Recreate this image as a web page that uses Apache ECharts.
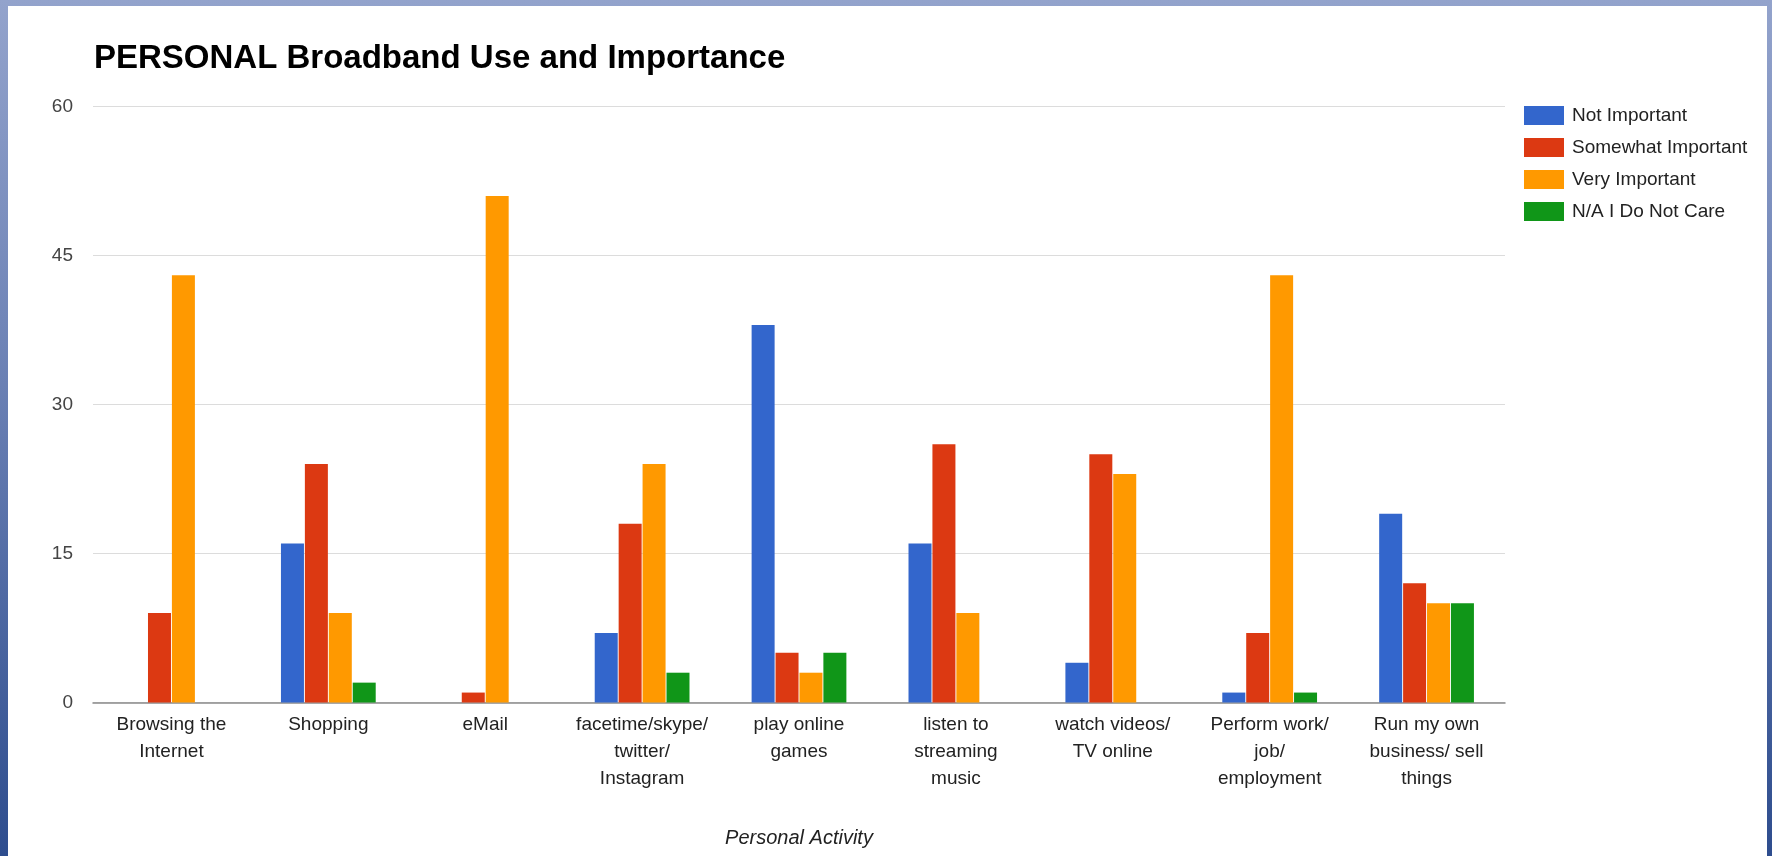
<!DOCTYPE html>
<html>
<head>
<meta charset="utf-8">
<script src="https://cdn.jsdelivr.net/npm/echarts@6/dist/echarts.min.js"></script>
<style>
  html, body { margin: 0; padding: 0; }
  body { width: 1772px; height: 856px; position: relative; overflow: hidden;
         background: linear-gradient(180deg, #93a3cc 0%, #6a80b4 45%, #2e4d8e 100%); }
  #white { position: absolute; left: 8px; top: 6px; right: 5px; bottom: 0; background: #ffffff; }
  #chart { position: absolute; left: 0; top: 0; width: 1772px; height: 856px; }
</style>
</head>
<body>
<div id="white"></div>
<div id="chart"></div>
<script>
const categories = [
  'Browsing the\nInternet',
  'Shopping',
  'eMail',
  'facetime/skype/\ntwitter/\nInstagram',
  'play online\ngames',
  'listen to\nstreaming\nmusic',
  'watch videos/\nTV online',
  'Perform work/\njob/\nemployment',
  'Run my own\nbusiness/ sell\nthings'
];
const seriesNames = ['Not Important', 'Somewhat Important', 'Very Important', 'N/A I Do Not Care'];
const notImportant      = [0, 16, 0, 7, 38, 16, 4, 1, 19];
const somewhatImportant = [9, 24, 1, 18, 5, 26, 25, 7, 12];
const veryImportant     = [43, 9, 51, 24, 3, 9, 23, 43, 10];
const naDoNotCare       = [0, 2, 0, 3, 5, 0, 0, 1, 10];
const yTicks = [0, 15, 30, 45, 60];

const colors = ['#3366cc', '#dc3912', '#ff9900', '#109618'];
const allValues = [notImportant, somewhatImportant, veryImportant, naDoNotCare];

const chart = echarts.init(document.getElementById('chart'), null, { renderer: 'canvas' });
const font = 'Arial, "Liberation Sans", Helvetica, sans-serif';

chart.setOption({
  backgroundColor: 'transparent',
  animation: false,
  color: colors,
  textStyle: { fontFamily: font },
  title: {
    text: 'PERSONAL Broadband Use and Importance',
    left: 94, top: 42, padding: 0,
    textStyle: { fontFamily: font, fontSize: 33, fontWeight: 'bold', color: '#000000' }
  },
  legend: {
    orient: 'vertical',
    left: 1524, top: 106, padding: 0,
    itemWidth: 40, itemHeight: 19, itemGap: 13,
    icon: 'rect',
    textStyle: { fontFamily: font, fontSize: 19, color: '#222222', padding: [0, 0, 0, 3] },
    data: seriesNames
  },
  grid: { left: 93, right: 267, top: 106.5, bottom: 153.5, containLabel: false },
  xAxis: {
    type: 'category',
    data: categories,
    name: 'Personal Activity',
    nameLocation: 'middle',
    nameGap: 126,
    nameTextStyle: { fontFamily: font, fontSize: 20, fontStyle: 'italic', color: '#222222' },
    axisLine: { show: true, lineStyle: { color: '#8a8a8a', width: 1.5 } },
    axisTick: { show: false },
    axisLabel: { interval: 0, margin: 9, fontFamily: font, fontSize: 19, lineHeight: 27, color: '#222222', align: 'center' }
  },
  yAxis: {
    type: 'value',
    min: yTicks[0], max: yTicks[yTicks.length - 1], interval: 15,
    axisLine: { show: false },
    axisTick: { show: false },
    splitLine: { lineStyle: { color: '#dcdcdc', width: 1 } },
    axisLabel: { margin: 20, fontFamily: font, fontSize: 19, color: '#444444' }
  },
  series: seriesNames.map((name, i) => ({
    name: name,
    type: 'bar',
    data: allValues[i],
    barWidth: 23,
    barGap: '4%',
    itemStyle: { color: colors[i] }
  }))
});
</script>
</body>
</html>
